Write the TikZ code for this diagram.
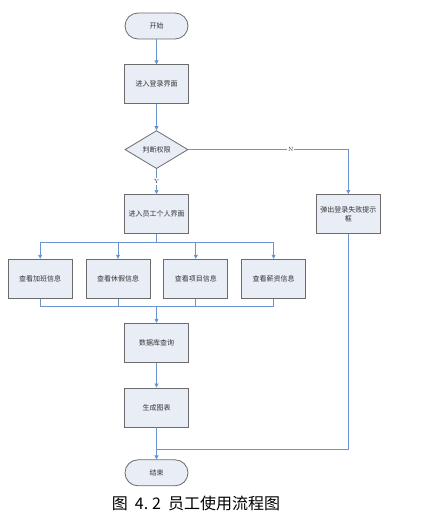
\documentclass[tikz,border=0pt]{standalone}
\usepackage{fontspec}
\usepackage{tikz}
\usetikzlibrary{shapes.geometric,arrows.meta,positioning,calc}
\newfontfamily\cjk{Noto Sans CJK SC}
\definecolor{LineBlue}{HTML}{6A94CE}
\definecolor{BoxFill}{HTML}{E9EEF6}
\definecolor{BoxEdge}{HTML}{6B6B6B}
\definecolor{TextGray}{HTML}{333333}
\tikzset{
  PB/.style={rectangle,minimum width=64pt,minimum height=39pt,
             inner sep=1pt,text centered,align=center,draw=BoxEdge,fill=BoxFill,
             line width=0.8pt,text=TextGray,font=\cjk\fontsize{7}{9}\selectfont},
  TM/.style={PB,rounded corners=13pt,minimum height=26pt,minimum width=63pt},
  DM/.style={PB,diamond,aspect=1.66,minimum width=63pt,minimum height=38pt,inner sep=0pt},
  arr/.style={-{Triangle[length=4pt,width=4pt]},draw=LineBlue,line width=0.7pt},
  ln/.style={draw=LineBlue,line width=0.7pt},
  LB/.style={fill=white,inner sep=1pt,font=\fontsize{6}{7}\selectfont,text=TextGray}
}
\begin{document}
\begin{tikzpicture}[x=1pt,y=1pt,node distance=25pt and 13pt]
  \useasboundingbox (0,0) rectangle (427,-519);
  \node[TM] (start) at (156.5,-26) {开始};
  \node[PB,below=25pt of start] (login) {进入登录界面};
  \node[DM,below=26pt of login] (chk) {判断权限};
  \node[PB,below=25pt of chk] (ui) {进入员工个人界面};
  \node[PB,right=127pt of ui] (fail) {弹出登录失败提示\\框};
  \node[PB,below=25pt of ui,xshift=-38.5pt] (qleave) {查看休假信息};
  \node[PB,left=13pt of qleave] (qover) {查看加班信息};
  \node[PB,right=13pt of qleave] (qproj) {查看项目信息};
  \node[PB,right=13pt of qproj] (qpay) {查看薪资信息};
  \node[PB,below=25pt of ui,yshift=-64pt] (db) {数据库查询};
  \node[PB,below=25pt of db] (chart) {生成图表};
  \node[TM,below=32pt of chart] (end) {结束};
  \node[font=\cjk\fontsize{16}{18}\selectfont] (cap) at (196,-503) {图\hspace{7pt}4.\hspace{4pt}2\hspace{7pt}员工使用流程图};

  \coordinate (split) at ($(ui.south)+(0,-9)$);
  \coordinate (merge) at ($(db.north)+(0,16)$);
  \coordinate (ret) at ($(end.north)+(0,10)$);

  \draw[arr](start)--(login);
  \draw[arr](login)--(chk);
  \draw[arr](chk)--node[LB]{Y}(ui);
  \draw[arr](chk.east)-|node[LB,pos=0.32]{N}(fail.north);
  \draw[ln](ui.south)--(split);
  \foreach \q in {qover,qleave,qproj,qpay}{
    \draw[arr](split)-|(\q.north);
    \draw[ln](\q.south)|-(merge);
  }
  \draw[arr](merge)--(db.north);
  \draw[arr](db)--(chart);
  \draw[arr](chart)--(end);
  \draw[ln](fail.south)|-(ret);
\end{tikzpicture}
\end{document}
